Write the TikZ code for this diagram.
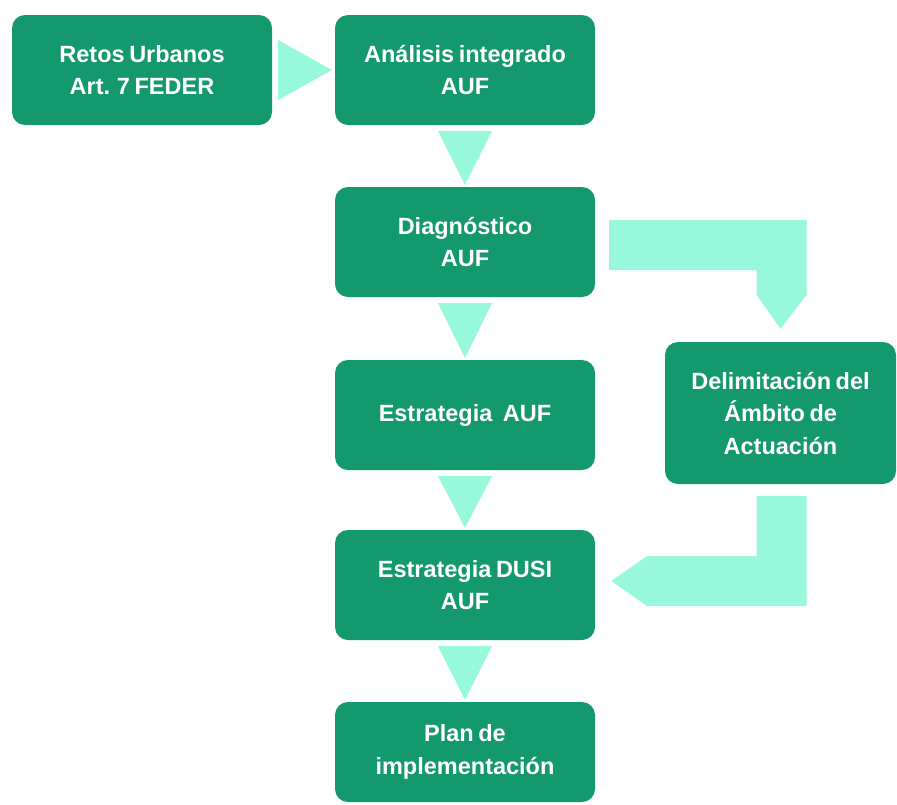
\documentclass[tikz,border=0pt]{standalone}
\usepackage{fontspec}
\setmainfont[WordSpace=0.7]{Liberation Sans}
\usetikzlibrary{calc}
\definecolor{boxgreen}{RGB}{20,152,110}
\definecolor{mint}{RGB}{152,248,220}
\begin{document}
\begin{tikzpicture}[x=1pt,y=-1pt,
  stepbox/.style={fill=boxgreen, draw=none, rounded corners=13pt, minimum width=260pt, minimum height=110pt,
    text=white, align=center, inner sep=0pt,
    font=\bfseries\fontsize{23.5}{32.5}\selectfont},
  arrowc/.style={fill=mint, draw=none}]
\useasboundingbox[fill=white] (0,0) rectangle (897,804);

\node[stepbox] (r) at (142,70) {Retos Urbanos\\Art. 7 FEDER};
\node[stepbox] (a) at (465,70) {Análisis integrado\\AUF};
\node[stepbox] (d) at (465,242) {Diagnóstico\\AUF};
\node[stepbox] (e) at (465,415) {Estrategia\hspace{0.45em}AUF};
\node[stepbox] (s) at (465,585) {Estrategia DUSI\\AUF};
\node[stepbox, minimum height=100pt] (p) at (465,752) {Plan de\\implementación};
\node[stepbox, minimum width=231pt, minimum height=142pt] (m) at (780.5,413) {Delimitación del\\Ámbito de\\Actuación};

% right triangle
\fill[arrowc] ($(r.east)+(6,-30)$) -- ($(r.east)+(6,30)$) -- ($(a.west)+(-3,0)$) -- cycle;
% down triangles
\foreach \u/\v in {a/d, d/e, e/s, s/p}{
  \fill[arrowc] ($(\u.south)+(-27,6)$) -- ($(\u.south)+(27,6)$) -- ($(\v.north)+(0,-2)$) -- cycle;
}
% L arrow from Diagnostico to Delimitacion
\fill[arrowc] ($(d.east)+(14,-22)$) -| ($(m.north)+(26,-47)$) -- ($(m.north)+(0,-13)$)
  -- ($(m.north)+(-24,-47)$) |- ($(d.east)+(14,28)$) -- cycle;
% L arrow from Delimitacion to Estrategia DUSI
\fill[arrowc] ($(m.south)+(-24,12)$) -- ($(m.south)+(26,12)$) |- ($(s.east)+(52,21)$)
  -- ($(s.east)+(16,-4)$) -- ($(s.east)+(52,-29)$) -| ($(m.south)+(-24,12)$) -- cycle;
\end{tikzpicture}
\end{document}
